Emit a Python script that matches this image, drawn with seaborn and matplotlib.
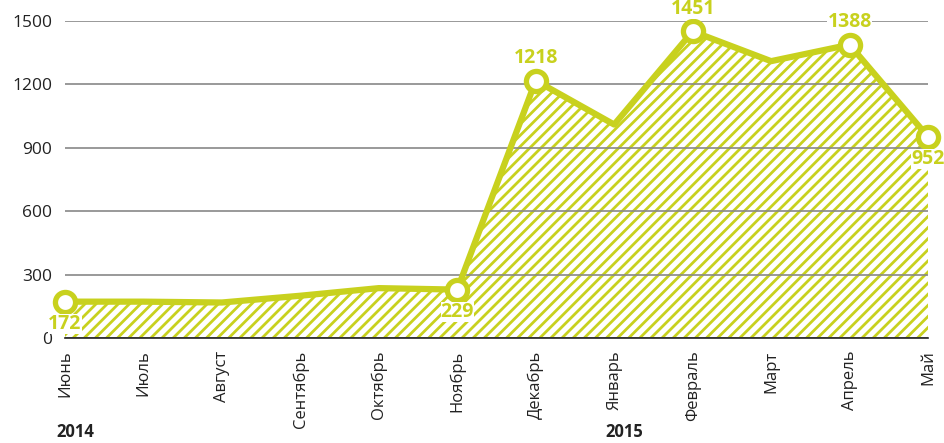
import numpy as np
import pandas as pd
import seaborn as sns
import matplotlib.pyplot as plt
from matplotlib.transforms import offset_copy

# Monthly values, June 2014 - May 2015
months = ["Июнь", "Июль", "Август", "Сентябрь", "Октябрь", "Ноябрь",
          "Декабрь", "Январь", "Февраль", "Март", "Апрель", "Май"]
values = [172, 172, 168, 200, 236, 229, 1218, 1010, 1451, 1310, 1388, 952]
labelled = {0: "below", 5: "below", 6: "above", 8: "above", 10: "above", 11: "below"}
years = {0: "2014", 7: "2015"}

GREEN = "#c8d11e"
DARK = "#222222"

sns.set_style("white")
plt.rcParams["font.family"] = ["Open Sans", "DejaVu Sans"]
plt.rcParams["hatch.linewidth"] = 2.0

df = pd.DataFrame({"x": np.arange(len(months)), "value": values})

fig = plt.figure(figsize=(9.45, 4.43), dpi=100)
ax = fig.add_axes([65 / 945, 1 - 338 / 443, (928 - 65) / 945, (338 - 21) / 443])

# hatched area
ax.fill_between(df["x"], 0, df["value"], facecolor="white", edgecolor=GREEN,
                hatch="///", linewidth=0, zorder=1)
sns.lineplot(data=df, x="x", y="value", ax=ax, color=GREEN, linewidth=4.5,
             zorder=3, clip_on=False)

# ringed markers on the labelled points
idx = list(labelled.keys())
ax.scatter(df["x"].iloc[idx], df["value"].iloc[idx], s=210, facecolor="white",
           edgecolor=GREEN, linewidth=3.8, zorder=4, clip_on=False)

for i, pos in labelled.items():
    v = values[i]
    dy = 16 if pos == "above" else -16
    ax.annotate(str(v), (i, v), xytext=(0, dy), textcoords="offset points",
                ha="center", va="center", fontsize=14, fontweight="bold",
                color=GREEN, zorder=5,
                bbox=dict(boxstyle="square,pad=0.0", fc="white", ec="none"))

ax.set_xlim(0, len(months) - 1)
ax.set_ylim(0, 1500)
ax.set_yticks([0, 300, 600, 900, 1200, 1500])
ax.set_xticks(df["x"])
ax.set_xticklabels(months, rotation=90, fontsize=12, color=DARK)
ax.tick_params(axis="y", labelsize=12.5, colors=DARK, length=0, pad=9)
ax.tick_params(axis="x", length=6, width=1.2, color=DARK, direction="out", pad=3)

ax.set_axisbelow("line")
ax.yaxis.grid(True, color="#888888", linewidth=1.2, zorder=2)
ax.xaxis.grid(False)
for s in ["top", "right", "left"]:
    ax.spines[s].set_visible(False)
ax.spines["bottom"].set_color(DARK)
ax.spines["bottom"].set_linewidth(1.2)
ax.set_xlabel("")
ax.set_ylabel("")

trans = offset_copy(ax.get_xaxis_transform(), fig=fig, x=-6, y=0, units="points")
for i, y in years.items():
    ax.text(i, -0.295, y, transform=trans, ha="left", va="center",
            fontsize=12, fontweight="bold", color=DARK)

fig.savefig("out.png", dpi=100)
